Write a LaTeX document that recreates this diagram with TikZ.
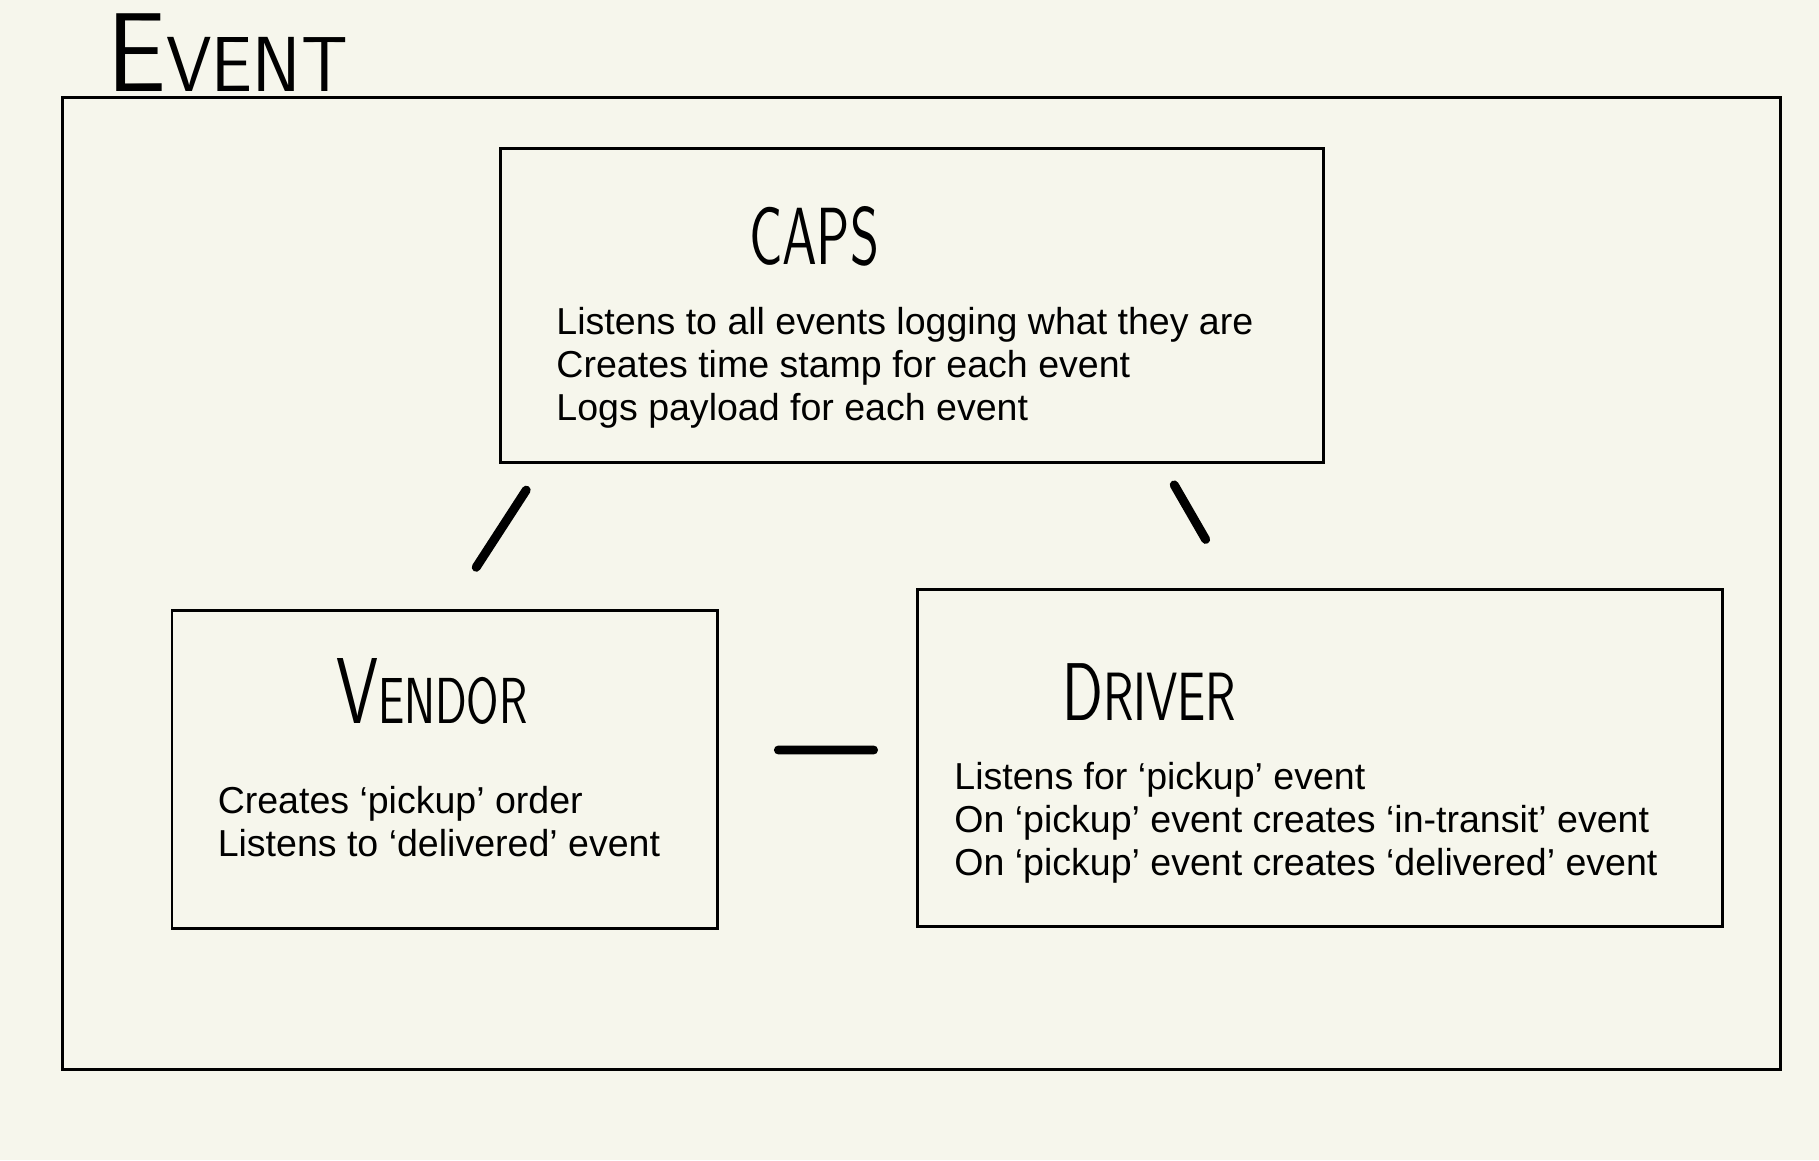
\documentclass[tikz,border=0pt]{standalone}
\usepackage{fontspec}
\setmainfont{Liberation Sans}
\usepackage{graphicx}
\usetikzlibrary{calc}
\definecolor{paper}{RGB}{246,246,236}
\newcommand{\hand}[3]{\resizebox{#1}{#2}{\sffamily #3}}
\tikzset{box/.style={rectangle,draw=black,line width=0.7pt,inner sep=0pt,anchor=north west},
handtitle/.style={inner sep=0pt,anchor=south west},
body/.style={inner sep=0pt,anchor=north west,align=left,font=\fontsize{9.2pt}{10.6pt}\selectfont},
linkline/.style={line width=2.2pt,line cap=round}}

\begin{document}
\begin{tikzpicture}[x=0.01cm,y=-0.01cm]
\fill[paper] (0,0) rectangle (1568,1000);
\useasboundingbox (0,0) rectangle (1568,1000);

\node[box,minimum width=14.80cm,minimum height=8.37cm] (event) at (53,83) {};
\node[handtitle] (eventtitle) at (92,80) {\hand{2.07cm}{0.67cm}{{\Huge E}{\LARGE VENT}}};

\node[box,minimum width=7.09cm,minimum height=2.70cm] (caps) at (430,127) {};
\node[handtitle] (capstitle) at (645,230) {\hand{1.12cm}{0.50cm}{CAPS}};
\node[body] (capstext) at (479,264) {Listens to all events logging what they are\\Creates time stamp for each event\\Logs payload for each event};

\node[box,minimum width=4.70cm,minimum height=2.74cm] (vendor) at (147,525) {};
\node[handtitle] (vendortitle) at (289,625) {\hand{1.65cm}{0.56cm}{{\Huge V}{\LARGE ENDOR}}};
\node[body] (vendortext) at (187,677) {Creates ‘pickup’ order\\Listens to ‘delivered’ event};

\node[box,minimum width=6.93cm,minimum height=2.90cm] (driver) at (790,507) {};
\node[handtitle] (drivertitle) at (915,622) {\hand{1.50cm}{0.49cm}{{\Huge D}{\huge RIVER}}};
\node[body] (drivertext) at (822,656) {Listens for ‘pickup’ event\\On ‘pickup’ event creates ‘in-transit’ event\\On ‘pickup’ event creates ‘delivered’ event};

\coordinate (cv1) at (453.6,422.5);
\coordinate (cv2) at (410.5,489);
\coordinate (cd1) at (1012.2,418);
\coordinate (cd2) at (1039.3,465);
\coordinate (vd1) at (671,646.5);
\coordinate (vd2) at (753,646.5);
\draw[linkline] (cv1)--(cv2) (cd1)--(cd2) (vd1)--(vd2);
\end{tikzpicture}
\end{document}
